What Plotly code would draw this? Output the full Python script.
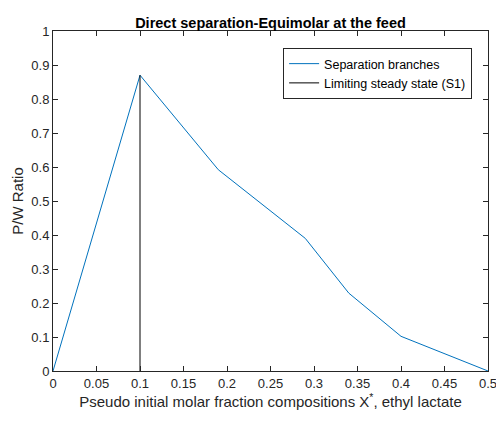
import plotly.graph_objects as go

x_sep = [0, 0.1, 0.19, 0.29, 0.34, 0.40, 0.5]
y_sep = [0, 0.87, 0.592, 0.39, 0.229, 0.102, 0]
x_lim = [0.1, 0.1]
y_lim = [0, 0.87]

x_ticks = [0, 0.05, 0.1, 0.15, 0.2, 0.25, 0.3, 0.35, 0.4, 0.45, 0.5]
x_labels = ["0", "0.05", "0.1", "0.15", "0.2", "0.25", "0.3", "0.35", "0.4", "0.45", "0.5"]
y_ticks = [0, 0.1, 0.2, 0.3, 0.4, 0.5, 0.6, 0.7, 0.8, 0.9, 1]
y_labels = ["0", "0.1", "0.2", "0.3", "0.4", "0.5", "0.6", "0.7", "0.8", "0.9", "1"]

font = "Liberation Sans, Arial, sans-serif"

fig = go.Figure()
fig.add_trace(go.Scatter(x=x_sep, y=y_sep, mode="lines", name="Separation branches",
                         line=dict(color="#0072BD", width=1)))
fig.add_trace(go.Scatter(x=x_lim, y=y_lim, mode="lines", name="Limiting steady state (S1)",
                         line=dict(color="#000000", width=1)))

axis_common = dict(showgrid=False, zeroline=False, showline=True, linecolor="#262626",
                   linewidth=1, mirror="ticks", ticks="inside", ticklen=5, automargin=False,
                   ticklabeloverflow="allow",
                   tickcolor="#262626", tickfont=dict(family=font, size=13, color="#262626"))

fig.update_layout(
    width=496, height=421,
    margin=dict(l=53, r=8, t=31, b=50),
    paper_bgcolor="white", plot_bgcolor="white",
    title=dict(text="<b>Direct separation-Equimolar at the feed</b>", x=0.5, xref="paper",
               y=1, yref="paper", yanchor="bottom", pad=dict(b=3),
               font=dict(family=font, size=14.5, color="black"), automargin=False),
    xaxis=dict(range=[0, 0.5], tickvals=x_ticks, ticktext=x_labels,
               title=dict(text="Pseudo initial molar fraction compositions X<sup>*</sup>, ethyl lactate",
                          font=dict(family=font, size=15, color="#262626"), standoff=6),
               **axis_common),
    yaxis=dict(range=[0, 1], tickvals=y_ticks, ticktext=y_labels,
               title=dict(text="P/W Ratio", font=dict(family=font, size=15, color="#262626"), standoff=4),
               **axis_common),
    legend=dict(x=0.529, y=0.95, xanchor="left", yanchor="top",
                bgcolor="white", bordercolor="#262626", borderwidth=1,
                font=dict(family=font, size=12.5, color="black"),
                tracegroupgap=0, itemwidth=30),
    showlegend=True,
)

fig.write_html("out.html")
